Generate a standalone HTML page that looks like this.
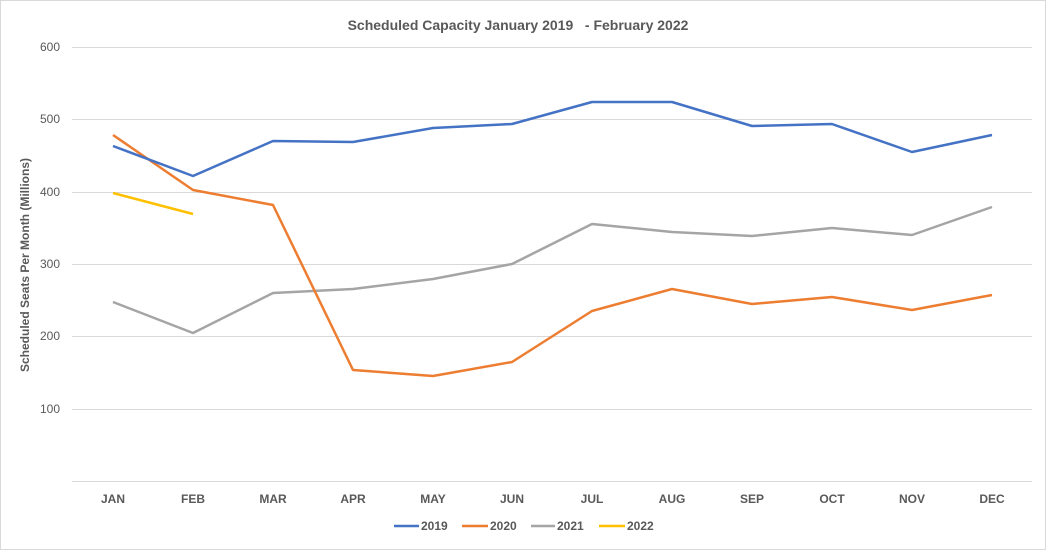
<!DOCTYPE html>
<html><head><meta charset="utf-8"><style>
body{margin:0;background:#fff}
svg{display:block;font-family:"Liberation Sans",sans-serif}
</style></head><body>
<svg width="1046" height="550" viewBox="0 0 1046 550" xmlns="http://www.w3.org/2000/svg">
<rect x="0.5" y="0.5" width="1045" height="549" fill="#fff" stroke="#d9d9d9"/>
<text x="518" y="30" text-anchor="middle" font-size="14" font-weight="bold" fill="#595959" xml:space="preserve">Scheduled Capacity January 2019   - February 2022</text>
<g stroke="#d9d9d9" stroke-width="1">
<line x1="72" x2="1032" y1="47.5" y2="47.5"/>
<line x1="72" x2="1032" y1="119.5" y2="119.5"/>
<line x1="72" x2="1032" y1="192.5" y2="192.5"/>
<line x1="72" x2="1032" y1="264.5" y2="264.5"/>
<line x1="72" x2="1032" y1="336.5" y2="336.5"/>
<line x1="72" x2="1032" y1="409.5" y2="409.5"/>
<line x1="72" x2="1032" y1="481.5" y2="481.5"/>
</g>
<g font-size="12" fill="#595959" text-anchor="end">
<text x="60" y="51">600</text><text x="60" y="123">500</text><text x="60" y="196">400</text>
<text x="60" y="268">300</text><text x="60" y="340">200</text><text x="60" y="413">100</text>
</g>
<text transform="translate(29,265) rotate(-90)" text-anchor="middle" font-size="12" font-weight="bold" fill="#595959">Scheduled Seats Per Month (Millions)</text>
<g font-size="12" font-weight="bold" fill="#595959" text-anchor="middle">
<text x="113" y="503">JAN</text><text x="193" y="503">FEB</text><text x="273" y="503">MAR</text>
<text x="353" y="503">APR</text><text x="433" y="503">MAY</text><text x="512" y="503">JUN</text>
<text x="592" y="503">JUL</text><text x="672" y="503">AUG</text><text x="752" y="503">SEP</text>
<text x="832" y="503">OCT</text><text x="912" y="503">NOV</text><text x="992" y="503">DEC</text>
</g>
<g fill="none" stroke-width="2.5" stroke-linejoin="round">
<polyline stroke="#a5a5a5" points="113,302 193,333 273,293 353,289 433,279 512,264 592,224 672,232 752,236 832,228 912,235 992,207"/>
<polyline stroke="#ed7d31" points="113,135 193,190 273,205 353,370 433,376 512,362 592,311 672,289 752,304 832,297 912,310 992,295"/>
<polyline stroke="#4472c4" points="113,146 193,176 273,141 353,142 433,128 512,124 592,102 672,102 752,126 832,124 912,152 992,135"/>
<polyline stroke="#ffc000" points="113,193 193,214"/>
</g>
<g font-size="12" font-weight="bold" fill="#595959">
<line x1="394" x2="419" y1="526" y2="526" stroke="#4472c4" stroke-width="2.5"/><text x="421" y="530">2019</text>
<line x1="462" x2="488" y1="526" y2="526" stroke="#ed7d31" stroke-width="2.5"/><text x="490" y="530">2020</text>
<line x1="531" x2="555" y1="526" y2="526" stroke="#a5a5a5" stroke-width="2.5"/><text x="557" y="530">2021</text>
<line x1="599" x2="625" y1="526" y2="526" stroke="#ffc000" stroke-width="2.5"/><text x="627" y="530">2022</text>
</g>
</svg>
</body></html>
